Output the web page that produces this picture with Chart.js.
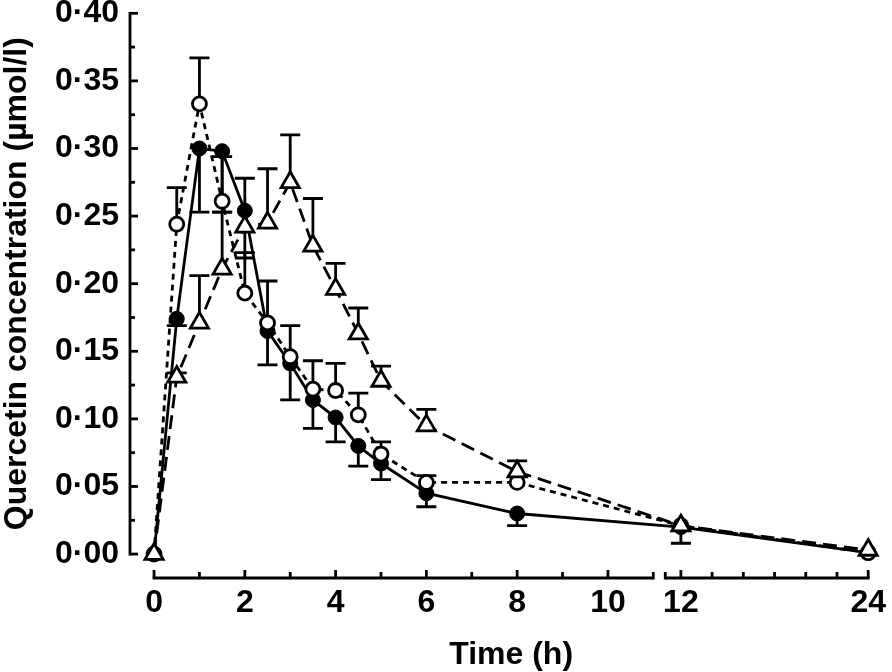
<!DOCTYPE html>
<html>
<head>
<meta charset="utf-8">
<script src="https://cdn.jsdelivr.net/npm/chart.js@4.4.1/dist/chart.umd.min.js"></script>
<style>
  html, body { margin: 0; padding: 0; background: #fff; }
</style>
</head>
<body>
<canvas id="chart" width="892" height="672"></canvas>
<script>
// sampling times (h)
const times = [0, 0.5, 1, 1.5, 2, 2.5, 3, 3.5, 4, 4.5, 5, 6, 8, 12, 24];

// filled circles, solid line (error bars drawn downward)
const filledMean = [0, 0.174, 0.300, 0.298, 0.254, 0.165, 0.141, 0.114, 0.101, 0.080, 0.067, 0.045, 0.030, 0.020, 0.001];
const filledErr = [0, 0.005, 0.047, 0.045, 0.035, 0.025, 0.027, 0.021, 0.018, 0.015, 0.012, 0.010, 0.009, 0.012, 0];

// open circles, dotted line (error bars drawn upward)
const openMean = [0, 0.244, 0.333, 0.261, 0.193, 0.171, 0.146, 0.122, 0.121, 0.103, 0.074, 0.053, 0.053, 0.021, 0.001];
const openErr = [0, 0.027, 0.034, 0.033, 0.030, 0.031, 0.023, 0.021, 0.020, 0.016, 0.009, 0.005, 0, 0, 0];

// open triangles, dashed line (error bars drawn upward)
const triMean = [0, 0.131, 0.171, 0.211, 0.242, 0.245, 0.275, 0.228, 0.196, 0.163, 0.128, 0.095, 0.061, 0.021, 0.003];
const triErr = [0, 0.003, 0.035, 0.042, 0.036, 0.040, 0.035, 0.035, 0.019, 0.019, 0.011, 0.012, 0.008, 0, 0];

// axis ticks
const xTickLabels = [0, 2, 4, 6, 8, 10, 12, 24];
const xMinorTicks = [1, 3, 5, 7, 9, 14, 16, 18, 20, 22];
const yTickLabels = [0, 0.05, 0.10, 0.15, 0.20, 0.25, 0.30, 0.35, 0.40];

// broken time axis: 0..11 on the left part, 11..24 compressed on the right
const X_BREAK = { at: 11, f1: 0.7089, f2: 0.7251 };

const FONT = '"Liberation Sans", Arial, Helvetica, sans-serif';
Chart.defaults.font.family = FONT;
Chart.defaults.font.weight = 'bold';
Chart.defaults.color = '#000';

class BrokenLinearScale extends Chart.LinearScale {
  static id = 'brokenLinear';
  static defaults = {};
  valueToDecimal(v) {
    const b = X_BREAK;
    if (v <= b.at) return (v - this.min) / (b.at - this.min) * b.f1;
    return b.f2 + (v - b.at) / (this.max - b.at) * (1 - b.f2);
  }
  getPixelForValue(v) {
    if (v === null || v === undefined || isNaN(v)) return NaN;
    return this.getPixelForDecimal(this.valueToDecimal(v));
  }
  getValueForPixel(p) {
    const d = this.getDecimalForPixel(p);
    const b = X_BREAK;
    if (d <= b.f1) return this.min + d / b.f1 * (b.at - this.min);
    return b.at + (d - b.f2) / (1 - b.f2) * (this.max - b.at);
  }
}
Chart.register(BrokenLinearScale);

const toPoints = (vals) => times.map((t, i) => ({ x: t, y: vals[i] }));

// axes, tick marks, error bars and axis titles
const axesPlugin = {
  id: 'axesPlugin',
  beforeDatasetsDraw(chart) {
    const { ctx, scales: { x, y } } = chart;
    ctx.save();
    ctx.strokeStyle = '#000';
    ctx.lineWidth = 2.8;
    ctx.lineCap = 'butt';

    // y axis
    const ax = chart.chartArea.left;
    ctx.beginPath();
    ctx.moveTo(ax, y.getPixelForValue(0) + 1.4);
    ctx.lineTo(ax, y.getPixelForValue(0.4) - 1.4);
    ctx.stroke();
    yTickLabels.forEach((v, i) => {
      const py = y.getPixelForValue(v);
      ctx.beginPath(); ctx.moveTo(ax, py); ctx.lineTo(ax + 8, py); ctx.stroke();
      if (i > 0) {
        const pm = y.getPixelForValue((v + yTickLabels[i - 1]) / 2);
        ctx.beginPath(); ctx.moveTo(ax, pm); ctx.lineTo(ax + 5, pm); ctx.stroke();
      }
    });

    // x axis (two segments)
    const ay = chart.chartArea.bottom;
    const p0 = x.getPixelForValue(0);
    const pA = x.getPixelForValue(X_BREAK.at);
    const pB = x.getPixelForDecimal(X_BREAK.f2);
    const p24 = x.getPixelForValue(24);
    ctx.beginPath();
    ctx.moveTo(p0 - 1.4, ay); ctx.lineTo(pA, ay);
    ctx.moveTo(pB, ay); ctx.lineTo(p24 + 1.4, ay);
    ctx.stroke();
    xTickLabels.forEach(v => {
      const px = x.getPixelForValue(v);
      ctx.beginPath(); ctx.moveTo(px, ay); ctx.lineTo(px, ay - 8); ctx.stroke();
    });
    xMinorTicks.forEach(v => {
      const px = x.getPixelForValue(v);
      ctx.beginPath(); ctx.moveTo(px, ay); ctx.lineTo(px, ay - 6); ctx.stroke();
    });
    [pA, pB].forEach(px => {
      ctx.beginPath(); ctx.moveTo(px, ay + 1.4); ctx.lineTo(px, ay - 6); ctx.stroke();
    });

    // error bars
    const series = [
      [filledMean, filledErr, -1],
      [openMean, openErr, 1],
      [triMean, triErr, 1]
    ];
    series.forEach(([m, e, dir]) => {
      times.forEach((t, i) => {
        if (!e[i]) return;
        const px = x.getPixelForValue(t);
        const py0 = y.getPixelForValue(m[i]);
        const py1 = y.getPixelForValue(m[i] + dir * e[i]);
        ctx.beginPath();
        ctx.moveTo(px, py0); ctx.lineTo(px, py1);
        ctx.moveTo(px - 10, py1); ctx.lineTo(px + 10, py1);
        ctx.stroke();
      });
    });
    ctx.restore();
  },
  afterDraw(chart) {
    const { ctx, scales: { x, y } } = chart;
    ctx.save();
    ctx.fillStyle = '#000';
    ctx.font = 'bold 32px ' + FONT;
    ctx.textAlign = 'center';
    ctx.textBaseline = 'middle';
    const xc = (x.getPixelForValue(0) + x.getPixelForValue(24)) / 2;
    ctx.fillText('Time (h)', xc, chart.height - 17);
    const yc = (y.getPixelForValue(0) + y.getPixelForValue(0.4)) / 2;
    ctx.translate(17, yc);
    ctx.rotate(-Math.PI / 2);
    ctx.fillText('Quercetin concentration (\u00B5mol/l)', 0, 0);
    ctx.restore();
  }
};

new Chart(document.getElementById('chart'), {
  type: 'line',
  data: {
    datasets: [
      {
        label: 'Triangles',
        data: toPoints(triMean),
        borderColor: '#000',
        borderWidth: 2.8,
        borderDash: [14, 7],
        pointStyle: 'triangle',
        pointRadius: 10.5,
        pointBackgroundColor: '#fff',
        pointBorderColor: '#000',
        pointBorderWidth: 2.8,
        tension: 0,
        clip: false
      },
      {
        label: 'Open circles',
        data: toPoints(openMean),
        borderColor: '#000',
        borderWidth: 2.8,
        borderDash: [6, 5],
        pointStyle: 'circle',
        pointRadius: 7,
        pointBackgroundColor: '#fff',
        pointBorderColor: '#000',
        pointBorderWidth: 2.8,
        tension: 0,
        clip: false
      },
      {
        label: 'Filled circles',
        data: toPoints(filledMean),
        borderColor: '#000',
        borderWidth: 2.8,
        pointStyle: 'circle',
        pointRadius: 7.5,
        pointBackgroundColor: '#000',
        pointBorderColor: '#000',
        pointBorderWidth: 1,
        tension: 0,
        clip: false
      }
    ]
  },
  options: {
    responsive: false,
    animation: false,
    devicePixelRatio: 1,
    layout: { padding: { top: 12, right: 20, bottom: 0, left: 0 } },
    plugins: { legend: { display: false }, tooltip: { enabled: false } },
    scales: {
      x: {
        type: 'brokenLinear',
        position: 'bottom',
        min: -0.53,
        max: 24,
        bounds: 'data',
        grid: { display: false, drawTicks: false },
        border: { display: false },
        afterBuildTicks: (scale) => { scale.ticks = xTickLabels.map(v => ({ value: v })); },
        afterFit: (scale) => { scale.height = 94; },
        ticks: {
          autoSkip: false,
          maxRotation: 0,
          minRotation: 0,
          padding: 6,
          font: { size: 32 },
          callback: (v) => String(v)
        }
      },
      y: {
        type: 'linear',
        position: 'left',
        min: -0.0177,
        max: 0.4,
        bounds: 'data',
        grid: { display: false, drawTicks: false },
        border: { display: false },
        afterBuildTicks: (scale) => { scale.ticks = yTickLabels.map(v => ({ value: v })); },
        afterFit: (scale) => { scale.width = 130; },
        ticks: {
          padding: 11,
          font: { size: 32, lineHeight: 0.03 },
          callback: (v) => Number(v).toFixed(2).replace('.', '\u00B7')
        }
      }
    }
  },
  plugins: [axesPlugin]
});
</script>
</body>
</html>
